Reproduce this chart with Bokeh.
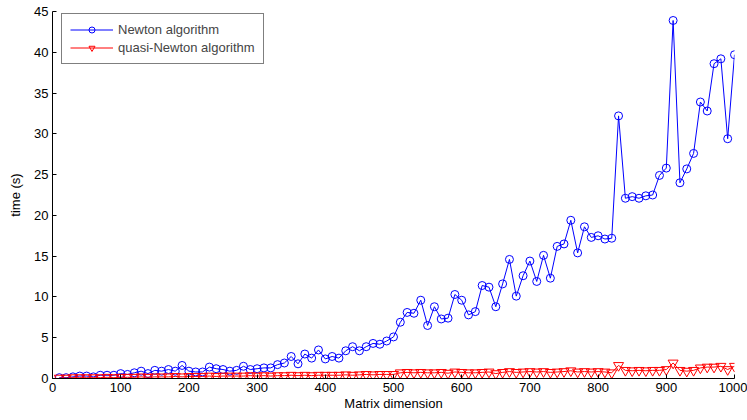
from bokeh.plotting import figure
from bokeh.models import Range1d, FixedTicker, Legend, LegendItem
from bokeh.embed import file_html
from bokeh.resources import INLINE

dims = [10, 20, 30, 40, 50, 60, 70, 80, 90, 100,
        110, 120, 130, 140, 150, 160, 170, 180, 190, 200,
        210, 220, 230, 240, 250, 260, 270, 280, 290, 300,
        310, 320, 330, 340, 350, 360, 370, 380, 390, 400,
        410, 420, 430, 440, 450, 460, 470, 480, 490, 500,
        510, 520, 530, 540, 550, 560, 570, 580, 590, 600,
        610, 620, 630, 640, 650, 660, 670, 680, 690, 700,
        710, 720, 730, 740, 750, 760, 770, 780, 790, 800,
        810, 820, 830, 840, 850, 860, 870, 880, 890, 900,
        910, 920, 930, 940, 950, 960, 970, 980, 990, 1000]

newton = [0.1, 0.1, 0.2, 0.3, 0.3, 0.2, 0.4, 0.4, 0.4, 0.6,
          0.5, 0.7, 0.9, 0.6, 1.0, 0.9, 1.1, 0.9, 1.6, 0.9,
          0.8, 0.8, 1.4, 1.2, 1.1, 0.9, 1.0, 1.5, 1.1, 1.2,
          1.3, 1.3, 1.7, 1.9, 2.7, 1.8, 3.0, 2.5, 3.5, 2.4,
          2.7, 2.5, 3.4, 3.9, 3.4, 3.9, 4.3, 4.2, 4.6, 5.1,
          6.9, 8.1, 8.0, 9.6, 6.5, 8.8, 7.3, 7.4, 10.3, 9.6,
          7.8, 8.2, 11.4, 11.2, 8.8, 11.6, 14.6, 10.1, 12.6, 14.4,
          11.9, 15.1, 12.3, 16.2, 16.5, 19.4, 15.4, 18.6, 17.3, 17.5,
          17.1, 17.2, 32.2, 22.1, 22.3, 22.1, 22.4, 22.5, 24.9, 25.8,
          43.9, 24.0, 25.7, 27.6, 33.9, 32.8, 38.6, 39.2, 29.4, 39.7]

quasi = [0.05, 0.05, 0.1, 0.1, 0.1, 0.1, 0.1, 0.15, 0.1, 0.15,
         0.15, 0.15, 0.2, 0.15, 0.2, 0.2, 0.2, 0.25, 0.2, 0.25,
         0.25, 0.25, 0.3, 0.25, 0.3, 0.3, 0.3, 0.3, 0.35, 0.3,
         0.35, 0.3, 0.35, 0.35, 0.4, 0.35, 0.4, 0.35, 0.4, 0.4,
         0.4, 0.4, 0.45, 0.4, 0.45, 0.5, 0.45, 0.5, 0.5, 0.5,
         0.7, 0.75, 0.7, 0.75, 0.7, 0.7, 0.75, 0.65, 0.8, 0.75,
         0.7, 0.7, 0.75, 0.8, 0.6, 0.75, 0.85, 0.75, 0.8, 0.85,
         0.8, 0.85, 0.75, 0.8, 0.85, 0.95, 0.8, 0.85, 0.8, 0.85,
         0.8, 0.7, 1.6, 1.0, 0.95, 1.0, 0.95, 1.0, 1.0, 1.1,
         1.9, 1.0, 0.9, 1.0, 1.3, 1.4, 1.4, 1.5, 1.1, 1.5]

x_ticks = [0, 100, 200, 300, 400, 500, 600, 700, 800, 900, 1000]
y_ticks = [0, 5, 10, 15, 20, 25, 30, 35, 40, 45]

FONT = "Liberation Sans"

p = figure(width=747, height=420, output_backend="svg", toolbar_location=None,
           x_range=Range1d(0, 1000), y_range=Range1d(0, 45),
           min_border_left=52, min_border_right=13, min_border_top=11,
           min_border_bottom=42)
p.outline_line_color = None
p.xgrid.visible = False
p.ygrid.visible = False
p.background_fill_color = "white"
p.border_fill_color = "white"

nl = p.line(dims, newton, line_color="#0000ff", line_width=1)
nm = p.scatter(dims, newton, marker="circle", size=8, line_color="#0000ff",
               fill_color=None, line_width=1)
ql = p.line(dims, quasi, line_color="#ff0000", line_width=1)
qm = p.scatter(dims, quasi, marker="inverted_triangle", size=10, line_color="#ff0000",
               fill_color=None, line_width=1)

for ax, ticks in ((p.xaxis[0], x_ticks), (p.yaxis[0], y_ticks)):
    ax.ticker = FixedTicker(ticks=ticks)
    ax.minor_tick_line_color = None
    ax.major_tick_in = 4
    ax.major_tick_out = 0
    ax.axis_line_color = "black"
    ax.major_tick_line_color = "black"
    ax.major_label_text_font = FONT
    ax.major_label_text_font_size = "13px"
    ax.major_label_text_color = "black"
    ax.axis_label_text_font = FONT
    ax.axis_label_text_font_size = "13px"
    ax.axis_label_text_font_style = "normal"
    ax.axis_label_text_color = "black"
    ax.major_label_standoff = 4

p.xaxis.axis_label = "Matrix dimension"
p.xaxis.axis_label_standoff = 1
p.yaxis.axis_label = "time (s)"
p.yaxis.axis_label_standoff = 8

legend = Legend(items=[LegendItem(label="Newton algorithm", renderers=[nl, nm]),
                       LegendItem(label="quasi-Newton algorithm", renderers=[ql, qm])],
                location=(9, 314))
legend.margin = 0
legend.padding = 8
legend.spacing = 3
legend.glyph_width = 43
legend.glyph_height = 15
legend.label_height = 15
legend.label_standoff = 5
legend.label_text_font = FONT
legend.label_text_font_size = "13px"
legend.border_line_color = "black"
legend.border_line_width = 1
legend.background_fill_alpha = 1.0
p.add_layout(legend)

open("out.html", "w").write(file_html(p, INLINE))
